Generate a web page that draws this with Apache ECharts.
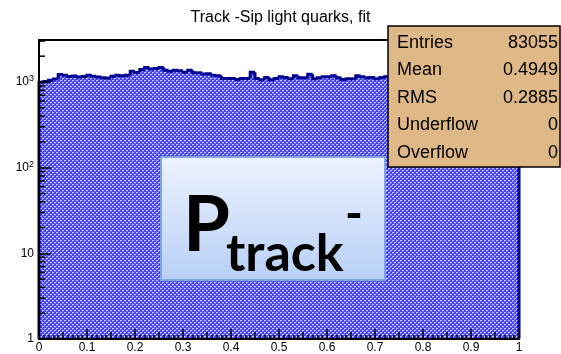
<!DOCTYPE html>
<html>
<head>
<meta charset="utf-8">
<script src="https://cdn.jsdelivr.net/npm/echarts@6/dist/echarts.min.js"></script>
<style>
  html, body { margin: 0; padding: 0; background: #fff; }
  #chart { width: 561px; height: 354px; }
</style>
</head>
<body>
<div id="chart"></div>
<script>
// histogram: 100 bins on [0,1]
var xMin = 0, xMax = 1, nBins = 100;
var counts = [
  990, 1010, 1050, 1085, 1220, 1200, 1155, 1175, 1140, 1155,
  1200, 1170, 1140, 1120, 1115, 1170, 1200, 1185, 1200, 1330,
  1290, 1400, 1475, 1420, 1440, 1480, 1370, 1330, 1370, 1350,
  1300, 1370, 1280, 1280, 1240, 1250, 1200, 1180, 1100, 1100,
  1100, 1070, 1100, 1100, 1300, 1100, 1060, 1130, 1060, 1100,
  1150, 1130, 1090, 1180, 1120, 1120, 1230, 1090, 1120, 1150,
  1150, 1180, 1120, 1070, 1090, 1090, 1180, 1150, 1120, 1130,
  1090, 1130, 1150, 1130, 1160, 1100, 1120, 1150, 1090, 1140,
  1170, 1110, 1130, 1100, 1150, 1120, 1090, 1160, 1130, 1110,
  1140, 1100, 1120, 1150, 1130, 1090, 1140, 1120, 1100, 1110
];
var xTicks = [0, 0.1, 0.2, 0.3, 0.4, 0.5, 0.6, 0.7, 0.8, 0.9, 1];
var yMajor = [1, 10, 100, 1000];
var yMinor = [2, 3, 4, 5, 6, 7, 8, 9, 20, 30, 40, 50, 60, 70, 80, 90,
              200, 300, 400, 500, 600, 700, 800, 900, 2000, 3000];
var yMax = 3090;

var statNames = ['Entries', 'Mean', 'RMS', 'Underflow', 'Overflow'];
var statValues = ['83055', '0.4949', '0.2885', '0', '0'];

// soft dotted fill (ROOT style 3001 look)
var pat = document.createElement('canvas');
pat.width = 4; pat.height = 4;
var pc = pat.getContext('2d');
pc.fillStyle = '#4444ff';
pc.fillRect(0, 0, 4, 4);
pc.fillStyle = '#c8c8ff';
pc.fillRect(0, 0, 2, 1); pc.fillRect(2, 2, 2, 1);
pc.fillStyle = '#8888ff';
pc.fillRect(0, 1, 1, 1); pc.fillRect(2, 3, 1, 1);
var dotPattern = { image: pat, repeat: 'repeat' };

var binW = (xMax - xMin) / nBins;
var histData = counts.map(function (c, i) {
  return [xMin + i * binW, xMin + (i + 1) * binW, c, i === 0 ? 1 : counts[i - 1]];
});

var myChart = echarts.init(document.getElementById('chart'));
var font = 'Liberation Sans, Arial, sans-serif';

var statsChildren = [{
  type: 'rect', z: 100,
  shape: { x: 388, y: 26, width: 172, height: 141 },
  style: { fill: '#deb887', stroke: '#000', lineWidth: 1.5 }
}];
statNames.forEach(function (n, i) {
  var cy = 43 + i * 27.5;
  statsChildren.push({
    type: 'text', x: 397, y: cy, z: 101,
    style: { text: n, font: '18px ' + font, fill: '#000', verticalAlign: 'middle', align: 'left' }
  });
  statsChildren.push({
    type: 'text', x: 558, y: cy, z: 101,
    style: { text: statValues[i], font: '18px ' + font, fill: '#000', verticalAlign: 'middle', align: 'right' }
  });
});

option = {
  animation: false,
  title: {
    text: 'Track -Sip light quarks, fit',
    left: 'center',
    top: 5,
    textStyle: { fontFamily: font, fontSize: 16, fontWeight: 'normal', color: '#000' }
  },
  grid: {
    left: 39, right: 42, top: 40, bottom: 14,
    show: true, borderColor: '#000', borderWidth: 2, backgroundColor: 'transparent'
  },
  xAxis: [
    {
      type: 'value', min: xMin, max: xMax, interval: 0.1, z: 10,
      axisLine: { lineStyle: { color: '#000', width: 2 } },
      axisTick: { inside: true, length: 10, lineStyle: { color: '#000', width: 1.5 } },
      minorTick: { show: true, splitNumber: 10, length: 4, lineStyle: { color: '#000', width: 1.5 } },
      splitLine: { show: false },
      axisLabel: {
        margin: 3, color: '#000', fontFamily: font, fontSize: 12,
        formatter: function (v) { return xTicks.indexOf(+v.toFixed(2)) >= 0 ? String(+v.toFixed(2)) : ''; }
      }
    },
    {
      type: 'value', min: xMin, max: xMax, interval: 0.05, z: 10, position: 'bottom',
      axisLine: { show: false },
      axisTick: { inside: true, length: 7, lineStyle: { color: '#000', width: 1.5 } },
      splitLine: { show: false },
      axisLabel: { show: false }
    }
  ],
  yAxis: {
    type: 'log', logBase: 10, min: 1, max: yMax, z: 10,
    axisLine: { show: true, lineStyle: { color: '#000', width: 2 } },
    axisTick: { inside: true, length: 12, lineStyle: { color: '#000', width: 1.5 } },
    splitLine: { show: false },
    axisLabel: {
      margin: 5, color: '#000', fontFamily: font, fontSize: 12, showMaxLabel: false,
      formatter: function (v) {
        var k = Math.round(Math.log10(v));
        if (yMajor.indexOf(v) < 0 && Math.abs(Math.pow(10, k) - v) > 1e-6) return '';
        if (k === 0) return '1';
        if (k === 1) return '10';
        return '10{s|' + k + '}';
      },
      rich: { s: { fontSize: 9, fontFamily: font, color: '#000', verticalAlign: 'top', padding: [0, 0, 6, 0] } }
    }
  },
  series: [
    {
      type: 'custom', name: 'fill', z: 2,
      data: histData,
      encode: { x: [0, 1], y: 2 },
      renderItem: function (params, api) {
        var p0 = api.coord([api.value(0), 1]);
        var p1 = api.coord([api.value(1), api.value(2)]);
        var shape = { x: p0[0], y: p1[1], width: p1[0] - p0[0] + 0.6, height: p0[1] - p1[1] };
        return { type: 'rect', shape: shape, style: { fill: dotPattern } };
      }
    },
    {
      type: 'custom', name: 'outline', z: 3,
      data: histData,
      encode: { x: [0, 1], y: 2 },
      renderItem: function (params, api) {
        var p0 = api.coord([api.value(0), api.value(3)]);
        var p1 = api.coord([api.value(0), api.value(2)]);
        var p2 = api.coord([api.value(1), api.value(2)]);
        var pts = [p0, p1, p2];
        if (params.dataIndex === nBins - 1) pts.push(api.coord([api.value(1), 1]));
        return {
          type: 'polyline',
          shape: { points: pts },
          style: { stroke: '#000090', lineWidth: 3, fill: null }
        };
      }
    },
    {
      type: 'custom', name: 'yminor', z: 11, silent: true,
      data: yMinor.map(function (v) { return [xMin, v]; }),
      renderItem: function (params, api) {
        var p = api.coord([api.value(0), api.value(1)]);
        return {
          type: 'line',
          shape: { x1: p[0], y1: p[1], x2: p[0] + 6, y2: p[1] },
          style: { stroke: '#000', lineWidth: 1.5 }
        };
      }
    }
  ],
  graphic: [
    {
      type: 'group',
      children: statsChildren
    },
    {
      type: 'group',
      children: [
        {
          type: 'rect', z: 100,
          shape: { x: 161, y: 157, width: 224, height: 123 },
          style: {
            fill: new echarts.graphic.LinearGradient(0, 0, 0, 1, [
              { offset: 0, color: '#edf3fe' },
              { offset: 1, color: '#b7d0f6' }
            ]),
            stroke: '#7fa6d6', lineWidth: 2
          }
        },
        {
          type: 'text', x: 183, y: 226, z: 101,
          style: { text: 'P', font: 'bold 76px Lato, sans-serif', fill: '#000', verticalAlign: 'middle' }
        },
        {
          type: 'text', x: 226, y: 254, z: 101,
          style: { text: 'track', font: 'bold 52px Lato, sans-serif', fill: '#000', verticalAlign: 'middle' }
        },
        {
          type: 'text', x: 345, y: 215, z: 101,
          style: { text: '-', font: 'bold 48px Lato, sans-serif', fill: '#000', verticalAlign: 'middle' }
        }
      ]
    }
  ]
};

myChart.setOption(option);
</script>
</body>
</html>
